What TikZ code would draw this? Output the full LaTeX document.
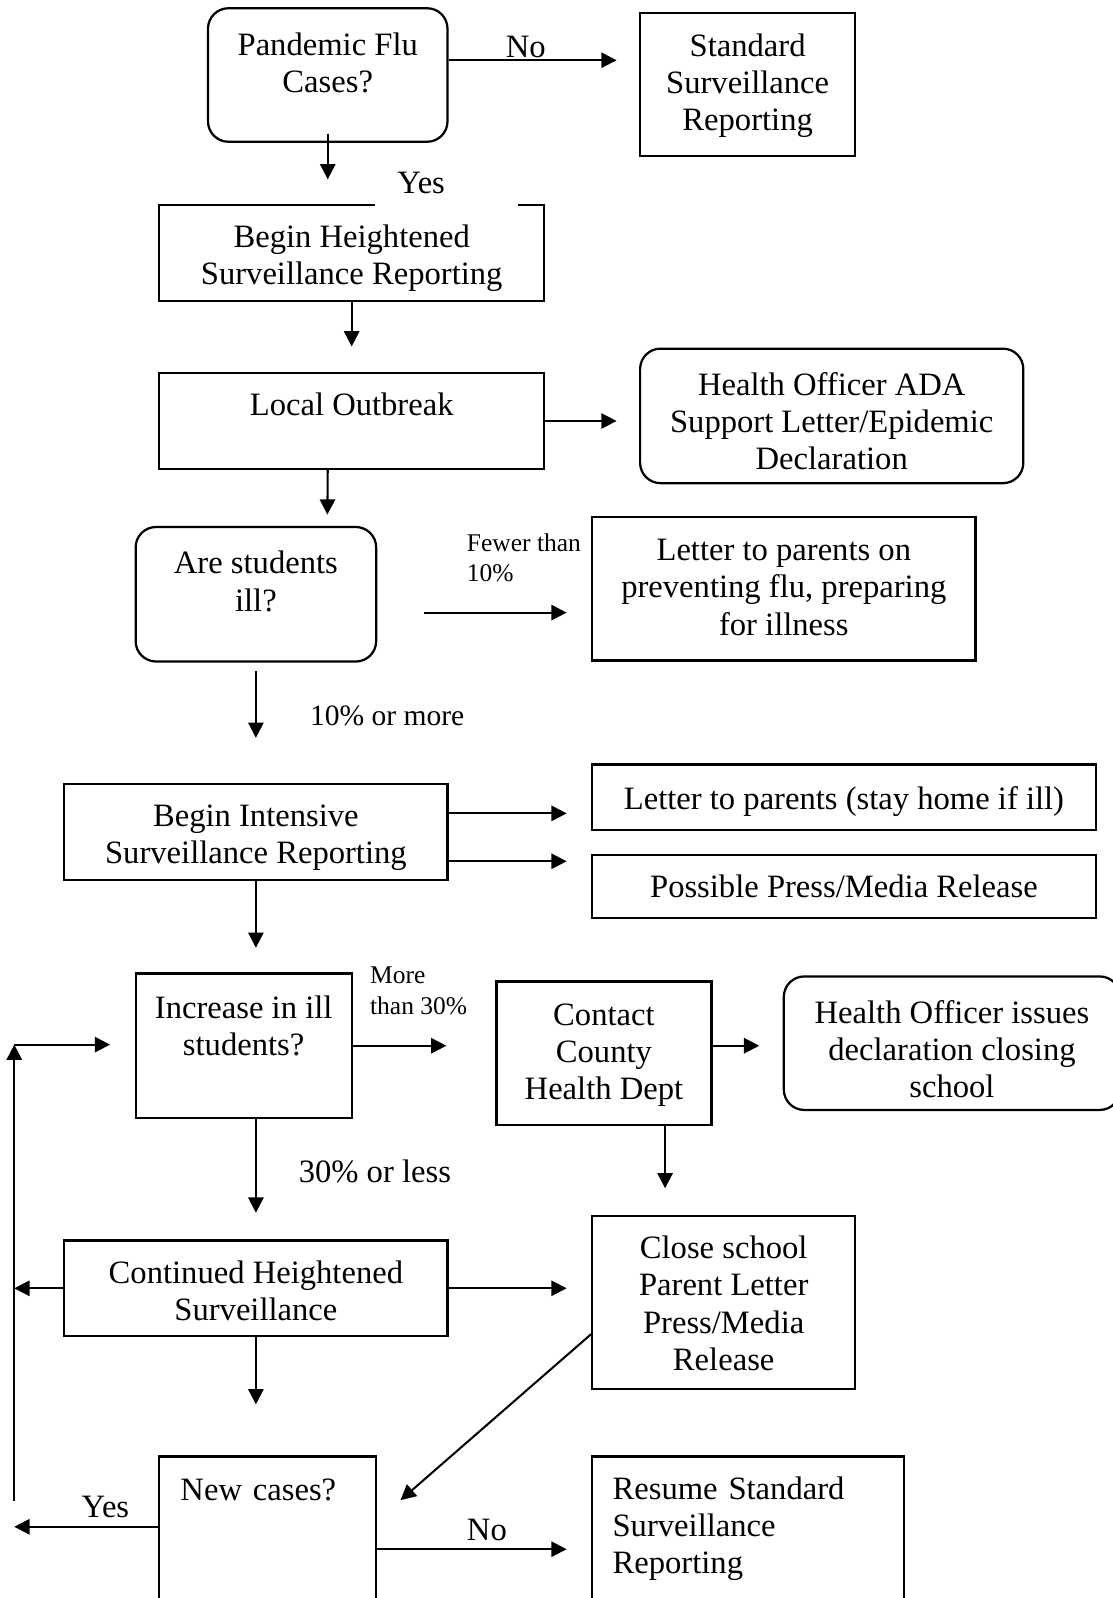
\documentclass[tikz,border=0pt]{standalone}
\usepackage{fontspec}
\setmainfont{Liberation Serif}
\usetikzlibrary{arrows.meta}

\newcommand{\boxfont}{\fontsize{32}{36.5}\selectfont}
\newcommand{\notefont}{\fontsize{25}{30}\selectfont}

\begin{document}
\begin{tikzpicture}[
  x=1pt, y=-1pt,
  box/.style={draw, line width=2.2pt, anchor=north west, inner ysep=0pt, align=center, font=\boxfont},
  rbox/.style={box, rounded corners=20pt},
  dims/.style n args={3}{minimum width=#1pt, text height=#2pt, text depth=#3pt},
  arr/.style={-{Triangle[length=15pt, width=15pt]}, line width=2pt},
  lbl/.style={inner sep=0pt, anchor=base west, font=\boxfont},
  note/.style={lbl, align=left, font=\notefont}
]
  \useasboundingbox (0,0) rectangle (1092,1568);

  % boxes
  \node[rbox, dims={235}{82.5}{48.5}] (flu) at (203,7) {Pandemic Flu\\Cases?};
  \node[box, dims={211}{115}{25}] (std) at (627,12) {Standard\\Surveillance\\Reporting};
  \node[box, dims={378}{78.5}{15.5}] (heighten) at (155,200) {Begin Heightened\\Surveillance Reporting};
  \node[box, dims={378}{42}{52}] (outbreak) at (155,365) {Local Outbreak};
  \node[rbox, dims={376}{119}{13}] (adaletter) at (627,341) {Health Officer ADA\\Support Letter/Epidemic\\Declaration};
  \node[rbox, dims={236}{82.5}{49.5}] (ill) at (132,516) {Are students\\ill?};
  \node[box, dims={376}{116}{25}] (prevent) at (580,506) {Letter to parents on\\preventing flu, preparing\\for illness};
  \node[box, dims={376}{78.5}{15.5}] (intensive) at (62,768) {Begin Intensive\\Surveillance Reporting};
  \node[box, dims={494}{44}{20}] (stayhome) at (580,749) {Letter to parents (stay home if ill)};
  \node[box, dims={494}{42}{20}] (press) at (580,838) {Possible Press/Media Release};
  \node[box, dims={212}{80.5}{61.5}] (increase) at (132,954) {Increase in ill\\students?};
  \node[box, dims={211}{116}{25}] (county) at (486,962) {Contact\\County\\Health Dept};
  \node[rbox, dims={330}{119}{12}] (closedecl) at (768,957) {Health Officer issues\\declaration closing\\school};
  \node[box, dims={376}{78.5}{15.5}] (continued) at (62,1216) {Continued Heightened\\Surveillance};
  \node[box, dims={258}{151.5}{18.5}] (closeschool) at (580,1192) {Close school\\Parent Letter\\Press/Media\\Release};
  \node[box, align=left, text width=171pt, inner xsep=21pt, text height=43pt, text depth=139pt] (newcases) at (155,1428) {New cases?};
  \node[box, align=left, text width=266pt, inner xsep=20pt, text height=42pt, text depth=140pt] (resume) at (580,1428) {Resume Standard\\Surveillance\\Reporting};

  % labels
  \node[lbl, anchor=base] (notop) at (516,56) {No};
  \node[lbl, fill=white, align=left, text width=96pt, inner xsep=22pt, inner ysep=12pt, anchor=base] (yestop) at (438,190) {Yes};
  \node[note] (fewer) at (458,571) {Fewer than\\10\%};
  \node[lbl, font=\fontsize{29}{33}\selectfont] (tenmore) at (304,712) {10\% or more};
  \node[note] (morethan) at (363,995) {More\\than 30\%};
  \node[lbl] (thirtyless) at (293,1160) {30\% or less};
  \node[lbl] (yesloop) at (80,1489) {Yes};
  \node[lbl] (nobottom) at (458,1512) {No};

  % helper points
  \coordinate (noA) at ([yshift=14.5pt]flu.east);
  \coordinate (lowA) at ([yshift=-18pt]ill.east);
  \coordinate (stayA) at ([yshift=18pt]intensive.east);
  \coordinate (pressA) at ([yshift=-29pt]intensive.east);
  \coordinate (countyA) at ([yshift=7.5pt]county.east);
  \coordinate (countyB) at ([xshift=60pt]county.south);
  \coordinate (closeA) at ([yshift=-31pt]closeschool.west);
  \coordinate (diagend) at (393,1472);
  \coordinate (yesA) at ([yshift=22pt]newcases.west);
  \coordinate (loopbot) at (14,1473);
  \coordinate (loopturn) at (14,1025);

  % arrows
  \draw[arr, shorten >=22pt] (noA) -- (noA -| std.west);
  \draw[arr, shorten >=24pt] ([yshift=9pt]flu.south) -- (flu.south |- heighten.north);
  \draw[arr, shorten >=25pt] (heighten) -- (outbreak);
  \draw[arr, shorten >=22pt] (outbreak.east) -- (outbreak.east -| adaletter.west);
  \draw[arr, shorten >=11pt] ([xshift=-23.5pt]outbreak.south) -- ([xshift=70pt]ill.north);
  \draw[arr, shorten <=46pt, shorten >=24pt] (lowA) -- (lowA -| prevent.west);
  \draw[arr, shorten <=8pt, shorten >=44pt] (ill) -- (intensive);
  \draw[arr, shorten >=24pt] (stayA) -- (stayA -| stayhome.west);
  \draw[arr, shorten >=24pt] (pressA) -- (pressA -| press.west);
  \draw[arr, shorten >=24pt] (intensive.south) -- (intensive.south |- increase.north);
  \draw[arr, shorten >=48pt] (increase.east) -- (increase.east -| county.west);
  \draw[arr, shorten >=23pt] (countyA) -- (countyA -| closedecl.west);
  \draw[arr, shorten >=26pt] (countyB) -- (countyB |- closeschool.north);
  \draw[arr, shorten >=26pt] ([xshift=12pt]increase.south) -- ([xshift=12pt]increase.south |- continued.north);
  \draw[arr, shorten >=24pt] (continued.east) -- (continued.east -| closeschool.west);
  \draw[arr] (continued.west) -- (continued.west -| loopbot);
  \draw[arr, shorten >=50pt] (continued.south) -- (continued.south |- newcases.north);
  \draw[arr] (closeA) -- (diagend);
  \draw[arr] (yesA) -- (yesA -| loopbot);
  \draw[arr, shorten >=24pt] (newcases.east) -- (newcases.east -| resume.west);
  \draw[arr] (loopbot) -- (loopturn);
  \draw[arr, shorten >=24pt] (loopturn) -- (loopturn -| increase.west);
\end{tikzpicture}
\end{document}
